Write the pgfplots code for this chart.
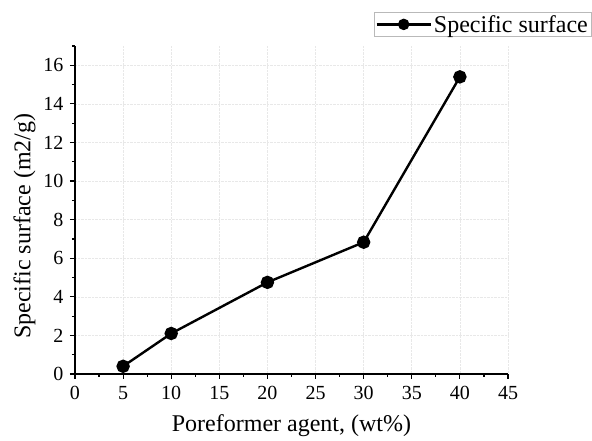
\documentclass[border=0pt]{standalone}
\usepackage{pgfplots}
\pgfplotsset{compat=1.18}
\usepackage{fontspec}
\setmainfont{Liberation Serif}

\begin{document}
\begin{tikzpicture}
\useasboundingbox (-75pt,-67pt) rectangle (517pt,374pt);
\begin{axis}[
    scale only axis,
    width=433pt, height=328pt,
    at={(0,0)}, anchor=south west,
    xmin=0, xmax=45, ymin=0, ymax=17,
    axis lines*=left,
    axis line style={line width=1.4pt},
    xtick={0,5,...,45}, ytick={0,2,...,16},
    minor xtick={2.5,7.5,...,42.5},
    minor ytick={1,3,...,17},
    tick align=outside,
    major tick length=5pt, minor tick length=3pt,
    every tick/.style={black, line width=1.2pt},
    grid=major,
    major grid style={gray!18, densely dotted, line width=0.6pt},
    /pgf/number format/assume math mode=true,
    tick label style={font=\fontsize{20}{24}\selectfont},
    xticklabel style={yshift=-4pt},
    yticklabel style={xshift=-3pt},
    label style={font=\fontsize{24}{28}\selectfont},
    xlabel={Poreformer agent, (wt\%)},
    ylabel={Specific surface (m2/g)},
    xlabel style={at={(axis description cs:0.5,0)}, anchor=north, yshift=-37pt},
    ylabel style={at={(axis description cs:-0.083,0.451)}, anchor=south},
    legend style={at={(axis description cs:1.192,1.104)}, anchor=north east,
        font=\fontsize{24}{28}\selectfont, draw=gray!55, line width=0.6pt,
        inner sep=1pt},
    legend cell align=left,
    legend image code/.code={
        \draw[mark repeat=2, mark phase=2, mark size=4.5pt]
            plot coordinates {(0pt,0pt) (27pt,0pt) (54pt,0pt)};
    },
]
\addplot[black, line width=2.4pt, mark=*, mark size=5.5pt] coordinates {
    (5,0.4) (10,2.1) (20,4.75) (30,6.83) (40,15.4)
};
\legend{Specific surface}
\end{axis}
\end{tikzpicture}
\end{document}
